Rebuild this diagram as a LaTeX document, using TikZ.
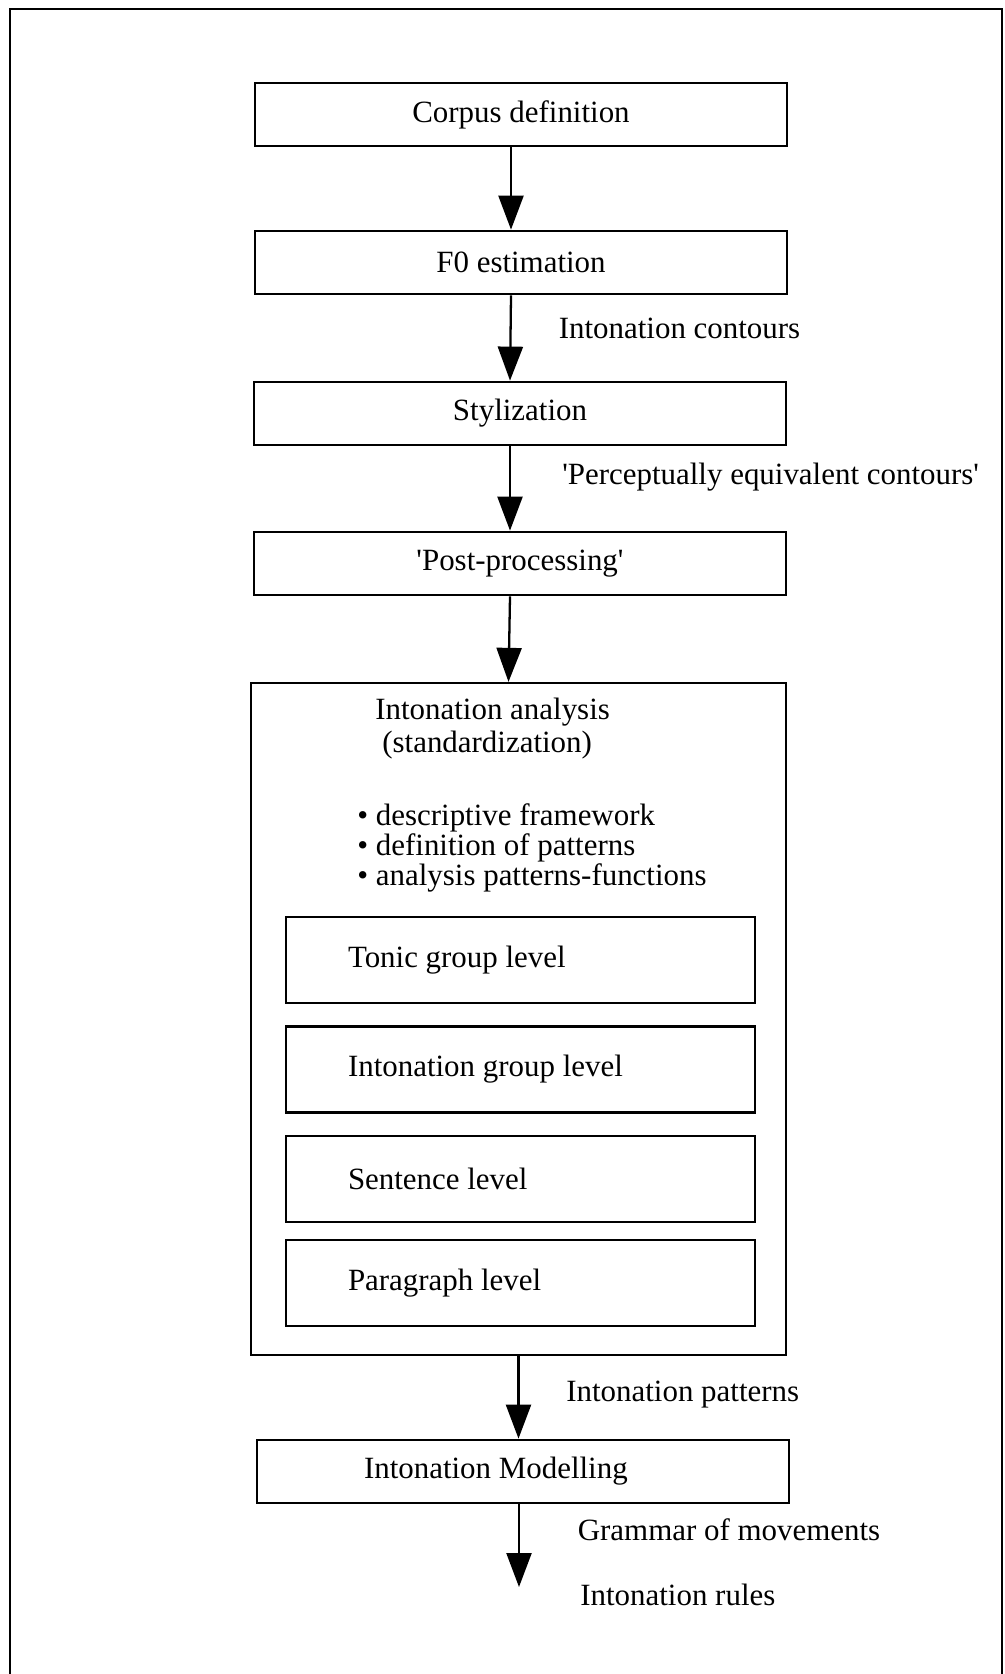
\documentclass[tikz,border=0pt]{standalone}
\usepackage{fontspec}
\setmainfont{Liberation Serif}
\usetikzlibrary{arrows.meta}

\begin{document}
\begin{tikzpicture}[
	font=\fontsize{17.6}{18.5}\selectfont,
	box/.style={rectangle, draw, line width=1.3pt, minimum width=10.64cm, minimum height=1.27cm, inner sep=0pt},
	level/.style={rectangle, draw, line width=1.3pt, minimum height=1.72cm, text width=6.9cm, inner xsep=1.24cm, inner ysep=0pt, align=flush left},
	lbl/.style={anchor=west, inner sep=0pt},
	flow/.style={-{Triangle[length=6.8mm, width=5mm]}, line width=1.3pt}
	]
	\useasboundingbox (0,0) rectangle (20.08,-33.48);
	\draw[line width=1.3pt] (0.2,-33.6) -- (0.2,-0.18) -- (20.04,-0.18) -- (20.04,-33.6);

	% processing chain
	\node[box] (corpus) at (10.42,-2.29) {Corpus definition};
	\node[box] (f0) at (10.42,-5.25) {F0 estimation};
	\node[box] (styl) at (10.4,-8.27) {Stylization};
	\node[box] (post) at (10.4,-11.27) {\textquotesingle Post-processing\textquotesingle};

	% analysis block
	\node[box, minimum width=10.7cm, minimum height=13.44cm] (ana) at (10.37,-20.38) {};
	\node[lbl, align=left] (anatitle) at (7.5,-14.57) {Intonation analysis\\\hspace{0.14cm}(standardization)};
	\node[lbl, align=left, font=\fontsize{17.6}{17.1}\selectfont] (points) at (7.14,-16.96) {• descriptive framework\\• definition of patterns\\• analysis patterns-functions};
	\node[level] (tonic) at (10.41,-19.2) {Tonic group level};
	\node[level] (group) at (10.41,-21.39) {Intonation group level};
	\node[level] (sentence) at (10.41,-23.58) {Sentence level};
	\node[level] (para) at (10.41,-25.66) {Paragraph level};

	\node[box, text width=6.36cm, inner xsep=2.14cm, align=flush left] (model) at (10.46,-29.43) {Intonation Modelling};
	\coordinate (rules) at (10.38,-31.74);

	\draw[flow] ([xshift=-2mm]corpus.south) -- ([xshift=-2mm]f0.north);
	\draw[flow] ([xshift=-2mm]f0.south) -- ([xshift=-2mm]styl.north);
	\draw[flow] ([xshift=-2mm]styl.south) -- ([xshift=-2mm]post.north);
	\draw[flow] ([xshift=-2mm]post.south) -- ([xshift=-2mm]ana.north);
	\draw[flow] (ana.south) -- (ana.south |- model.north);
	\draw[flow] (model.south -| rules) -- (rules);

	% labels on the arrows
	\node[lbl] (contours) at (11.17,-6.56) {Intonation contours};
	\node[lbl] (percept) at (11.24,-9.54) {\textquotesingle Perceptually equivalent contours\textquotesingle};
	\node[lbl] (patterns) at (11.32,-27.9) {Intonation patterns};
	\node[lbl] (grammar) at (11.55,-30.6) {Grammar of movements};
	\node[lbl] (rulestext) at (11.6,-31.9) {Intonation rules};
\end{tikzpicture}
\end{document}
